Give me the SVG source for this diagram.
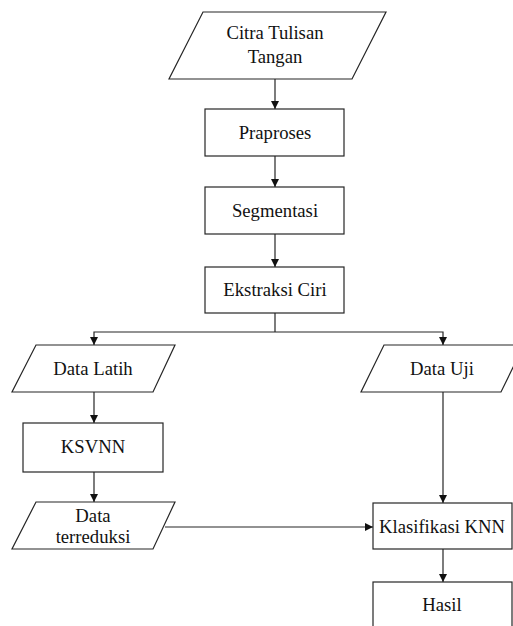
<svg xmlns="http://www.w3.org/2000/svg" width="513" height="626" viewBox="0 0 513 626">
<style>
.s{fill:#fff;stroke:#262626;stroke-width:1.2}
.t{font-family:"Liberation Serif","Times New Roman",serif;font-size:18.7px;fill:#111;text-anchor:middle}
.c{fill:none;stroke:#262626;stroke-width:1.2}
</style>
<defs>
<marker id="ah" viewBox="0 0 10 10" refX="10" refY="5" markerWidth="8" markerHeight="8" markerUnits="userSpaceOnUse" orient="auto">
<path d="M0,0 L10,5 L0,10 Z" fill="#111"/>
</marker>
</defs>
<rect width="513" height="626" fill="#fff"/>
<g id="connectors">
<path class="c" d="M275,79 V109" marker-end="url(#ah)"/>
<path class="c" d="M275,156 V187" marker-end="url(#ah)"/>
<path class="c" d="M275,234 V267" marker-end="url(#ah)"/>
<path class="c" d="M275,313 V332"/>
<path class="c" d="M275,332 H94 V345" marker-end="url(#ah)"/>
<path class="c" d="M275,332 H443 V345" marker-end="url(#ah)"/>
<path class="c" d="M94,392 V423" marker-end="url(#ah)"/>
<path class="c" d="M94,472 V502" marker-end="url(#ah)"/>
<path class="c" d="M443,392 V503" marker-end="url(#ah)"/>
<path class="c" d="M165,527 H373" marker-end="url(#ah)"/>
<path class="c" d="M443,549 V582" marker-end="url(#ah)"/>
</g>
<g id="citra">
<polygon class="s" points="203,12 386,12 352,79 169,79"/>
<text class="t" x="275" y="39">Citra Tulisan</text>
<text class="t" x="275" y="63">Tangan</text>
</g>
<g id="praproses">
<rect class="s" x="205" y="109" width="139" height="47"/>
<text class="t" x="275" y="138.5">Praproses</text>
</g>
<g id="segmentasi">
<rect class="s" x="205" y="187" width="139" height="47"/>
<text class="t" x="275" y="217">Segmentasi</text>
</g>
<g id="ekstraksi">
<rect class="s" x="205" y="267" width="139" height="46"/>
<text class="t" x="275" y="296">Ekstraksi Ciri</text>
</g>
<g id="data-latih">
<polygon class="s" points="36,345 175,345 153,392 12,392"/>
<text class="t" x="93" y="375">Data Latih</text>
</g>
<g id="data-uji">
<polygon class="s" points="384,345 524,345 501,392 361,392"/>
<text class="t" x="442" y="375">Data Uji</text>
</g>
<g id="ksvnn">
<rect class="s" x="23" y="423" width="140" height="49"/>
<text class="t" x="93" y="453">KSVNN</text>
</g>
<g id="data-terreduksi">
<polygon class="s" points="36,502 175,502 153,549 12,549"/>
<text class="t" x="93" y="522">Data</text>
<text class="t" x="93" y="543">terreduksi</text>
</g>
<g id="klasifikasi">
<rect class="s" x="373" y="503" width="139" height="46"/>
<text class="t" x="442" y="533">Klasifikasi KNN</text>
</g>
<g id="hasil">
<rect class="s" x="373" y="582" width="139" height="60"/>
<text class="t" x="442" y="611">Hasil</text>
</g>
</svg>
